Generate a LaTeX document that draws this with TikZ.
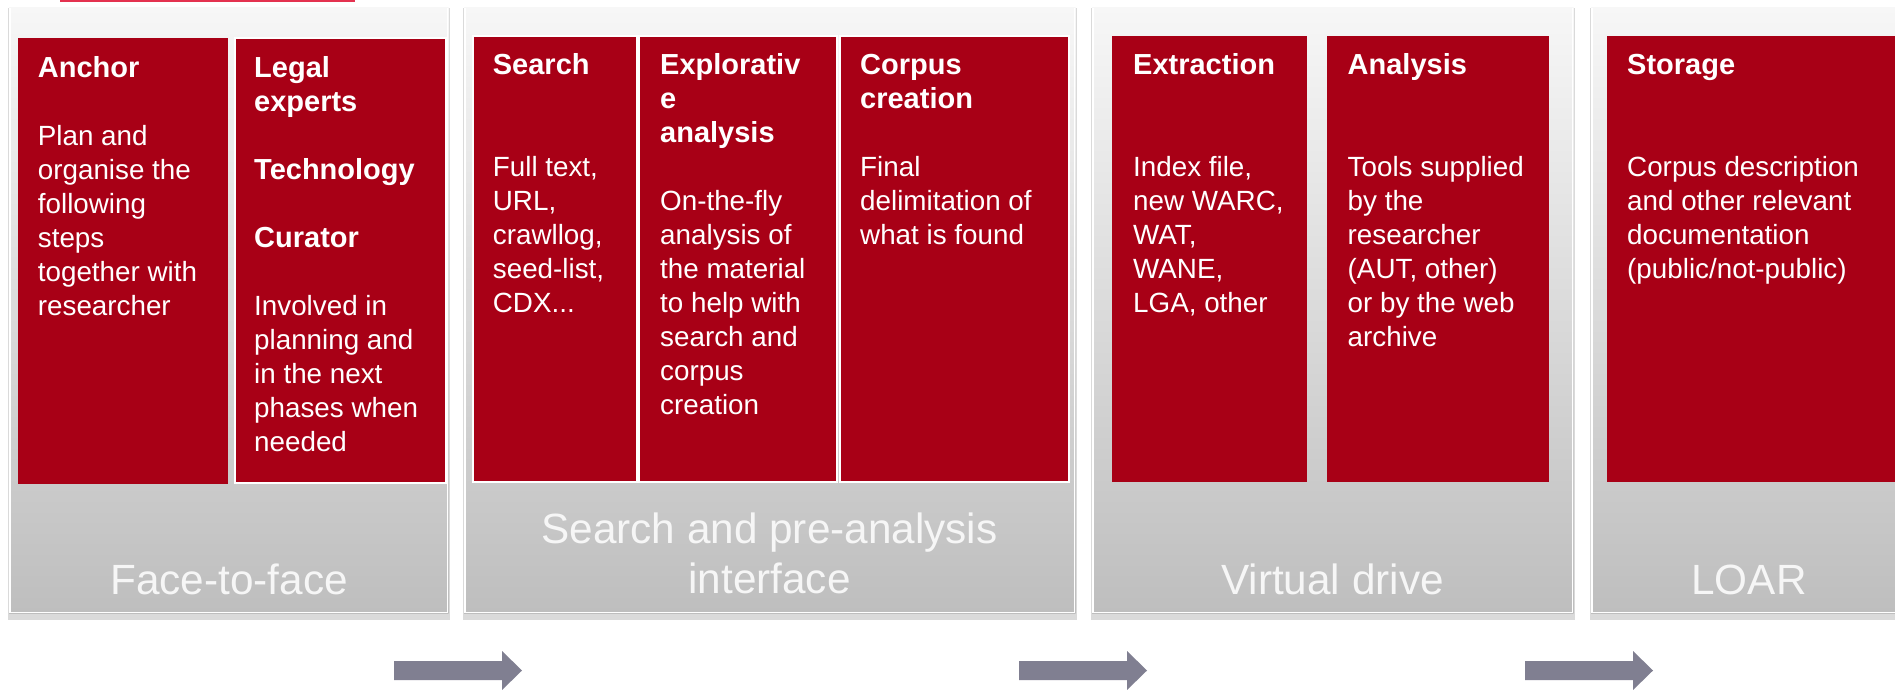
\documentclass[tikz,border=0pt]{standalone}
\usepackage{fontspec}
\setmainfont{Liberation Sans}
\definecolor{boxred}{RGB}{168,0,22}
\definecolor{arrowgray}{RGB}{128,127,145}
\definecolor{paneltop}{RGB}{247,247,247}
\definecolor{panelbot}{RGB}{190,190,190}
\definecolor{panelshadow}{RGB}{218,218,218}
\definecolor{topline}{RGB}{228,50,80}
\definecolor{labelwhite}{RGB}{246,246,246}
\newcommand\BoxTitle[1]{\hbox{\fontsize{29}{34}\selectfont\bfseries #1}}
\newcommand\BoxLine[1]{\hbox{#1}}
\newcommand\CLine[1]{\hbox to 0pt{\hss #1\hss}}
\tikzset{
  panelshade/.style={top color=paneltop,bottom color=panelbot},
  paneledge/.style={draw=white,line width=1.2pt},
  panelback/.style={fill=panelshadow},
  redbox/.style={fill=boxred},
  redboxw/.style={fill=boxred,draw=white,line width=1.5pt},
  boxtext/.style={anchor=base west,inner sep=0pt,text=white,font=\fontsize{27.8}{34}\selectfont},
  paneltitle/.style={anchor=base,inner sep=0pt,text=labelwhite,font=\fontsize{42.3}{50.5}\selectfont},
  flowarrow/.style={fill=arrowgray}
}
\begin{document}
\begin{tikzpicture}[x=1pt,y=-1pt]
\useasboundingbox (0,0) rectangle (1895,689);
\clip (0,0) rectangle (1895,689);
\fill[white] (0,0) rectangle (1895,689);
% top red line
\fill[topline] (60,0) rectangle (355,1.6);
% panels
\foreach \xa/\xb in {8/450, 463/1077, 1091/1575, 1590/1912}{
  \fill[panelback] (\xa,8) rectangle (\xb,620);
  \shade[panelshade] (\xa+1,7) rectangle (\xb-1.5,613);
  \draw[paneledge] (\xa+2,8) -- (\xa+2,612.5) -- (\xb-2.5,612.5) -- (\xb-2.5,8);
}
% red boxes
\fill[redbox] (18,38) rectangle (228,484);
\path[redboxw] (235,38) rectangle (446,483);
\path[redboxw] (473,36) rectangle (637,482);
\path[redboxw] (639,36) rectangle (837,482);
\path[redboxw] (840,36) rectangle (1069,482);
\fill[redbox] (1112,36) rectangle (1307,482);
\fill[redbox] (1327,36) rectangle (1549,482);
\fill[redbox] (1607,36) rectangle (1920,482);
% box texts
\node[boxtext] (anchor) at (37.7,77) {\vtop{\BoxTitle{Anchor}\hbox{}\BoxLine{Plan and}\BoxLine{organise the}\BoxLine{following}\BoxLine{steps}\BoxLine{together with}\BoxLine{researcher}}};
\node[boxtext] (legal) at (254,77) {\vtop{\BoxTitle{Legal}\BoxTitle{experts}\hbox{}\BoxTitle{Technology}\hbox{}\BoxTitle{Curator}\hbox{}\BoxLine{Involved in}\BoxLine{planning and}\BoxLine{in the next}\BoxLine{phases when}\BoxLine{needed}}};
\node[boxtext] (search) at (492.7,74) {\vtop{\BoxTitle{Search}\hbox{}\hbox{}\BoxLine{Full text,}\BoxLine{URL,}\BoxLine{crawllog,}\BoxLine{seed-list,}\BoxLine{CDX...}}};
\node[boxtext] (explor) at (660,74) {\vtop{\BoxTitle{Explorativ}\BoxTitle{e}\BoxTitle{analysis}\hbox{}\BoxLine{On-the-fly}\BoxLine{analysis of}\BoxLine{the material}\BoxLine{to help with}\BoxLine{search and}\BoxLine{corpus}\BoxLine{creation}}};
\node[boxtext] (corpus) at (860,74) {\vtop{\BoxTitle{Corpus}\BoxTitle{creation}\hbox{}\BoxLine{Final}\BoxLine{delimitation of}\BoxLine{what is found}}};
\node[boxtext] (extract) at (1133,74) {\vtop{\BoxTitle{Extraction}\hbox{}\hbox{}\BoxLine{Index file,}\BoxLine{new WARC,}\BoxLine{WAT,}\BoxLine{WANE,}\BoxLine{LGA, other}}};
\node[boxtext] (analysis) at (1347.5,74) {\vtop{\BoxTitle{Analysis}\hbox{}\hbox{}\BoxLine{Tools supplied}\BoxLine{by the}\BoxLine{researcher}\BoxLine{(AUT, other)}\BoxLine{or by the web}\BoxLine{archive}}};
\node[boxtext] (storage) at (1627,74) {\vtop{\BoxTitle{Storage}\hbox{}\hbox{}\BoxLine{Corpus description}\BoxLine{and other relevant}\BoxLine{documentation}\BoxLine{(public/not-public)}}};
% panel labels
\node[paneltitle] (face) at (229,594) {\CLine{Face-to-face}};
\node[paneltitle] (spa) at (769.5,543) {\vtop{\CLine{Search and pre-analysis}\CLine{interface}}};
\node[paneltitle] (vdrive) at (1332.5,594) {\CLine{Virtual drive}};
\node[paneltitle] (loar) at (1749,594) {\CLine{LOAR}};
% flow arrows
\foreach \xa in {394, 1019, 1525}{
  \fill[flowarrow] (\xa,661) -- (\xa+108,661) -- (\xa+108,651) -- (\xa+128,670.5) -- (\xa+108,690) -- (\xa+108,680) -- (\xa,680) -- cycle;
}
\end{tikzpicture}
\end{document}
